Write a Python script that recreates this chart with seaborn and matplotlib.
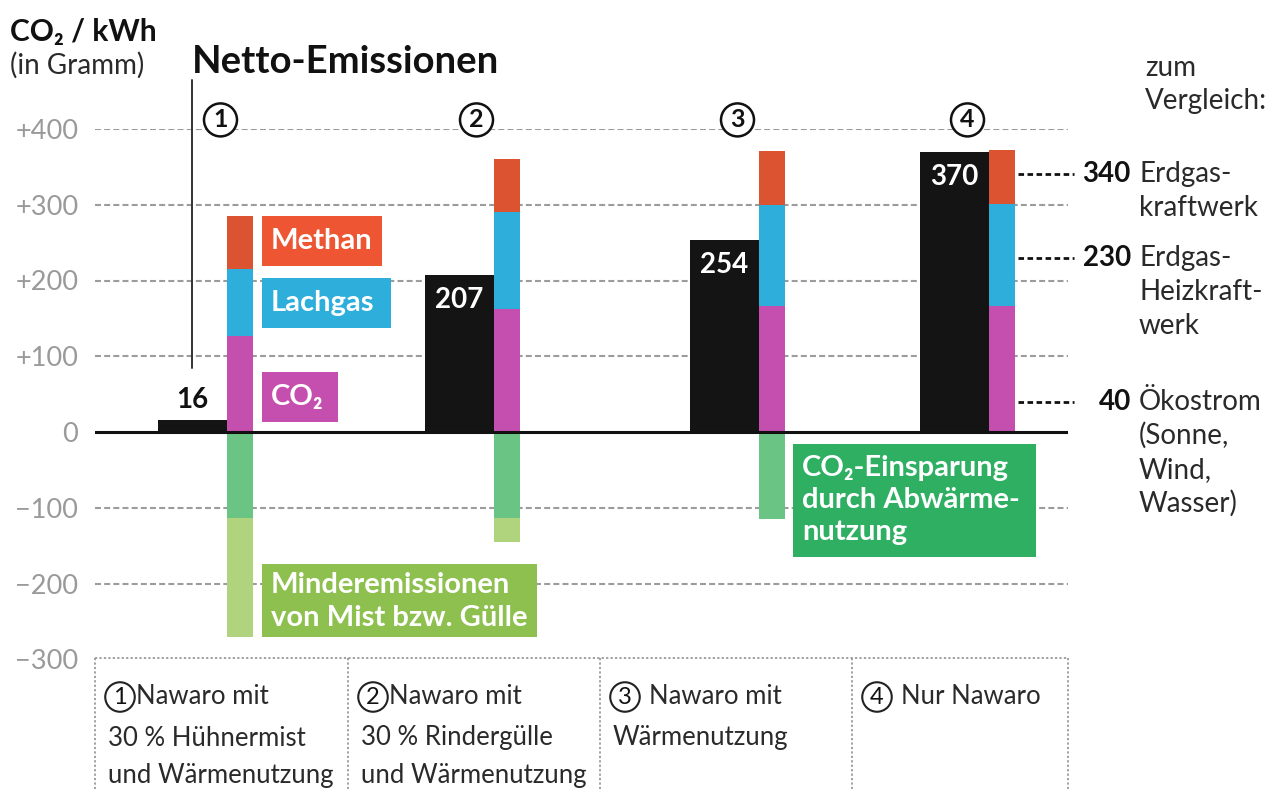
import matplotlib
matplotlib.use("Agg")
import matplotlib.pyplot as plt
import seaborn as sns
from matplotlib.patches import Rectangle
from matplotlib.lines import Line2D

# ---------------- data ----------------
scenario_ids = ["1", "2", "3", "4"]
scenario_lines = [
    ["Nawaro mit", "30 % Hühnermist", "und Wärmenutzung"],
    ["Nawaro mit", "30 % Rindergülle", "und Wärmenutzung"],
    ["Nawaro mit", "Wärmenutzung"],
    ["Nur Nawaro"],
]
netto = [16, 207, 254, 370]
co2 = [127, 162, 166, 166]
lachgas = [88, 129, 134, 135]
methan = [70, 69, 71, 71]
abwaerme = [-113, -114, -115, 0]
mist = [-158, -31, 0, 0]
ytick_values = [-300, -200, -100, 0, 100, 200, 300, 400]
ytick_labels = ["−300", "−200", "−100", "0", "+100", "+200", "+300", "+400"]
grid_values = [400, 300, 200, 100, -100, -200]
vergleich_values = [340, 230, 40]
vergleich_labels = [["Erdgas-", "kraftwerk"],
                    ["Erdgas-", "Heizkraft-", "werk"],
                    ["Ökostrom", "(Sonne,", "Wind,", "Wasser)"]]

# ---------------- style ----------------
sns.set_style("white")
plt.rcParams["font.family"] = ["Lato", "DejaVu Sans"]
plt.rcParams["lines.scale_dashes"] = False

C_BLACK = "#141414"
C_METHAN_BAR, C_METHAN_BOX = "#DB5331", "#EE5532"
C_LACHGAS = "#2EAEDB"
C_CO2 = "#C54FAE"
C_GREEN_BAR, C_GREEN_BOX = "#6AC483", "#2EAF62"
C_LIGHT_BAR, C_LIGHT_BOX = "#B0D47D", "#8EC04F"
C_TEXT = "#2a2a2a"
C_GRID = "#9c9c9c"

W, H = 1279, 789
fig = plt.figure(figsize=(W / 100, H / 100), dpi=100)
Y_ZERO, PX_PER_UNIT = 432.0, 0.7575


def py(v):
    return Y_ZERO - v * PX_PER_UNIT


def fx(x):
    return x / W


def fy(y):
    return 1 - y / H


ax_top, ax_bot = py(400), py(-300)
ax = fig.add_axes([fx(95), fy(ax_bot), (1068 - 95) / W, (ax_bot - ax_top) / H])

group_left = [158, 425, 690, 920]
net_w, stack_w = 69, 26
net_x = [l + net_w / 2 for l in group_left]
stack_x = [l + net_w + stack_w / 2 for l in group_left]


def rel(width, xs):
    s = sorted(xs)
    return width / min(b - a for a, b in zip(s, s[1:]))


def bars(xs, vals, color, width):
    sns.barplot(x=xs, y=vals, native_scale=True, orient="x", width=rel(width, xs),
                color=color, saturation=1, errorbar=None, linewidth=0, ax=ax, zorder=2)


top = [a + b + c for a, b, c in zip(co2, lachgas, methan)]
mid = [a + b for a, b in zip(co2, lachgas)]
neg_total = [a + b for a, b in zip(abwaerme, mist)]
bars(stack_x, top, C_METHAN_BAR, stack_w)
bars(stack_x, mid, C_LACHGAS, stack_w)
bars(stack_x, co2, C_CO2, stack_w)
bars(stack_x, neg_total, C_LIGHT_BAR, stack_w)
bars(stack_x, abwaerme, C_GREEN_BAR, stack_w)
bars(net_x, netto, C_BLACK, net_w)

ax.set_xlim(95, 1068)
ax.set_ylim(-300, 400)
ax.set_xticks([])
ax.set_yticks(ytick_values)
ax.set_yticklabels(ytick_labels, color="#9a9a9a", fontsize=19.5)
ax.tick_params(axis="y", length=0, pad=12)
ax.set_xlabel("")
ax.set_ylabel("")
for s in ax.spines.values():
    s.set_visible(False)
ax.grid(False)

for v in grid_values:
    ax.axhline(v, color=C_GRID, lw=1.5, dashes=(4.3, 2.3), zorder=0.5)
ax.axhline(0, color="#111111", lw=2.2, zorder=3)

# net values
for x, v in zip(net_x, netto):
    if v < 60:
        ax.text(x, v + 26, str(v), ha="center", va="center", fontsize=20,
                fontweight="bold", color="#111111", zorder=5)
    else:
        ax.text(x, v - 33, str(v), ha="center", va="center", fontsize=20,
                fontweight="bold", color="white", zorder=5)

# circled numbers above groups
circle_x = [l + (net_w + stack_w) / 2 for l in group_left]
circle_x[0] += 15
circle_x[1] += 4
for x, sid in zip(circle_x, scenario_ids):
    ax.text(x, 412, sid, ha="center", va="center", fontsize=18, fontweight="bold",
            color="#111111", zorder=6, clip_on=False,
            bbox=dict(boxstyle="circle,pad=0.2", fc="white", ec="#111111", lw=1.8))

# Netto-Emissionen pointer line
ax.plot([192, 192], [85, 465], color="#333333", lw=1.4, clip_on=False, zorder=4)

# comparison dashes
for v in vergleich_values:
    ax.plot([1018, 1074], [v, v], color="#111111", lw=2, dashes=(4, 2.5),
            clip_on=False, zorder=4)

# ---------------- figure texts ----------------
def ftext(x, y, s, **kw):
    kw.setdefault("color", C_TEXT)
    kw.setdefault("va", "center")
    fig.text(fx(x), fy(y), s, **kw)


ftext(10, 32, "CO₂ / kWh", fontsize=21.5, fontweight="bold", color="#111111")
ftext(10, 65, "(in Gramm)", fontsize=20)
ftext(192, 62, "Netto-Emissionen", fontsize=27.5, fontweight="bold", color="#111111")

ftext(1145, 68, "zum", fontsize=20)
ftext(1145, 101, "Vergleich:", fontsize=20)
for v, lines in zip(vergleich_values, vergleich_labels):
    y0 = py(v)
    ftext(1131, y0, str(v), fontsize=20, fontweight="bold", ha="right", color="#111111")
    for i, t in enumerate(lines):
        ftext(1139, y0 + i * 34, t, fontsize=20)


def box(x0, y0, x1, y1, color, lines, ys, tx):
    fig.patches.append(Rectangle((fx(x0), fy(y1)), (x1 - x0) / W, (y1 - y0) / H,
                                 transform=fig.transFigure, fc=color, ec="none", zorder=3))
    for t, y in zip(lines, ys):
        ftext(tx, y, t, fontsize=21, fontweight="bold", color="white", zorder=4)


box(262, 216, 382, 266, C_METHAN_BOX, ["Methan"], [241], 271)
box(262, 278, 391, 328, C_LACHGAS, ["Lachgas"], [303], 271)
box(262, 372, 338, 422, C_CO2, ["CO₂"], [397], 271)
box(262, 564, 537, 637, C_LIGHT_BOX, ["Minderemissionen", "von Mist bzw. Gülle"], [585, 618], 271)
box(793, 444, 1036, 557, C_GREEN_BOX, ["CO₂-Einsparung", "durch Abwärme-", "nutzung"],
    [468, 500, 532], 802)

# ---------------- table below ----------------
col_edges = [95, 348, 600, 852, 1068]
tbl_top = 658
line_kw = dict(color="#9a9a9a", lw=1.3, dashes=(1.6, 1.6), transform=fig.transFigure)
fig.lines.append(Line2D([fx(95), fx(1068)], [fy(tbl_top), fy(tbl_top)], **line_kw))
for x in col_edges:
    fig.lines.append(Line2D([fx(x), fx(x)], [fy(tbl_top), fy(H + 5)], **line_kw))

row_y = [697, 738, 776]
for i, (sid, lines) in enumerate(zip(scenario_ids, scenario_lines)):
    x0 = col_edges[i] + 13
    ftext(x0 + 12, row_y[0], sid, fontsize=17, ha="center", color="#111111",
          bbox=dict(boxstyle="circle,pad=0.18", fc="white", ec="#222222", lw=1.5))
    for j, t in enumerate(lines):
        if j == 0:
            ftext(x0 + 28 + (8 if i >= 2 else 0), row_y[0], t, fontsize=18.5)
        else:
            ftext(x0, row_y[j], t, fontsize=18.5)

fig.savefig("out.png", dpi=100)
